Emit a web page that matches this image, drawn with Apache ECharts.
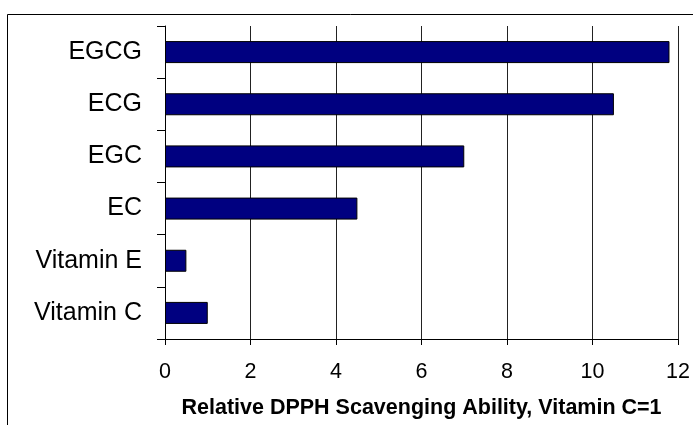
<!DOCTYPE html>
<html>
<head>
<meta charset="utf-8">
<script src="https://cdn.jsdelivr.net/npm/echarts@6/dist/echarts.min.js"></script>
<style>
  html, body { margin: 0; padding: 0; background: #fff; }
  #chart { width: 693px; height: 425px; }
</style>
</head>
<body>
<div id="chart"></div>
<script>
// Compounds, listed bottom to top on the category axis
const compounds = ['Vitamin C', 'Vitamin E', 'EC', 'EGC', 'ECG', 'EGCG'];
// Relative DPPH scavenging ability (Vitamin C = 1)
const scavenging = [1, 0.5, 4.5, 7, 10.5, 11.8];
const xTicks = [0, 2, 4, 6, 8, 10, 12];
const xTitle = 'Relative DPPH Scavenging Ability, Vitamin C=1';

const FONT = '"Liberation Sans", Arial, sans-serif';
const chart = echarts.init(document.getElementById('chart'), null, { renderer: 'canvas' });

chart.setOption({
  animation: false,
  backgroundColor: '#ffffff',
  graphic: [{
    type: 'rect',
    shape: { x: 7.5, y: 14.5, width: 720, height: 500 },
    style: { fill: 'none', stroke: '#000', lineWidth: 1 },
    silent: true,
    z: -1
  }],
  grid: { left: 165, right: 13, top: 26, bottom: 86, containLabel: false },
  xAxis: {
    type: 'value',
    min: xTicks[0],
    max: xTicks[xTicks.length - 1],
    interval: xTicks[1] - xTicks[0],
    name: xTitle,
    nameLocation: 'middle',
    nameGap: 58,
    nameTextStyle: { fontFamily: FONT, fontSize: 21.5, fontWeight: 'bold', color: '#000' },
    axisLine: { show: true, lineStyle: { color: '#000', width: 1 } },
    axisTick: { show: true, length: 6, lineStyle: { color: '#000' } },
    axisLabel: { fontFamily: FONT, fontSize: 21.5, color: '#000', margin: 22 },
    splitLine: { show: true, lineStyle: { color: '#222', width: 1 } }
  },
  yAxis: {
    type: 'category',
    data: compounds,
    axisLine: { show: true, lineStyle: { color: '#000', width: 1 } },
    axisTick: { show: true, inside: false, length: 8, alignWithLabel: false, lineStyle: { color: '#000' } },
    axisLabel: { fontFamily: FONT, fontSize: 25, color: '#000', margin: 23 },
    splitLine: { show: false }
  },
  series: [{
    type: 'bar',
    data: scavenging,
    barWidth: 22,
    itemStyle: { color: '#000080', borderColor: '#000', borderWidth: 1 }
  }]
});
</script>
</body>
</html>
